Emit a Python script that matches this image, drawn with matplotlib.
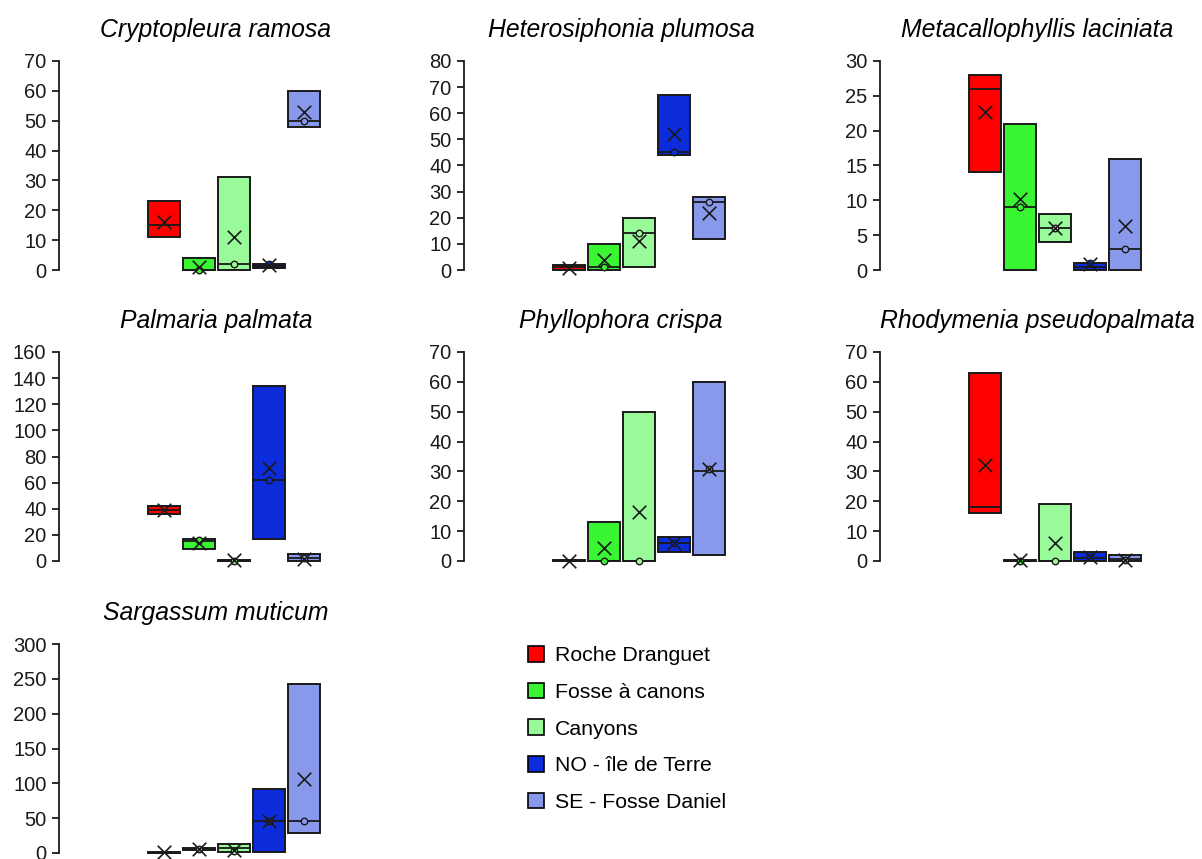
import matplotlib
matplotlib.use('Agg')
import matplotlib.pyplot as plt
from matplotlib.patches import Patch

plt.rcParams['font.family'] = ['Liberation Sans', 'DejaVu Sans']

sites = ['Roche Dranguet', 'Fosse à canons', 'Canyons', 'NO - île de Terre', 'SE - Fosse Daniel']
colors = ['#ff0000', '#3af532', '#99fa99', '#0c2bdb', '#8899ec']

species = ['Cryptopleura ramosa', 'Heterosiphonia plumosa', 'Metacallophyllis laciniata',
           'Palmaria palmata', 'Phyllophora crispa', 'Rhodymenia pseudopalmata',
           'Sargassum muticum']
ymax = [70, 80, 30, 160, 70, 70, 300]
ystep = [10, 10, 5, 20, 10, 10, 50]

# per species, one value per site
low = [[11, 0, 0, 0.8, 48],
       [0, 0, 1, 44, 12],
       [14, 0, 4, 0, 0],
       [36, 9, 0, 17, 0],
       [0, 0, 0, 3, 2],
       [16, 0, 0, 0, 0],
       [0, 4, 1, 1.4, 29]]
high = [[23, 4, 31, 2, 60],
        [2, 10, 20, 67, 28],
        [28, 21, 8, 1, 16],
        [42, 17, 0.5, 134, 5],
        [0.3, 13, 50, 8, 60],
        [63, 0.3, 19, 3, 2],
        [1, 7.6, 13, 92, 243]]
median = [[15, 0, 2, 1.5, 50],
          [1, 1, 14, 45, 26],
          [26, 9, 6, 0.5, 3],
          [39, 15, 0, 62, 2.3],
          [0, 0, 0, 6, 30],
          [18, 0, 0, 1.1, 0.8],
          [0, 5.7, 6.7, 46, 46]]
mean = [[16.2, 1.1, 10.9, 1.8, 53],
        [0.8, 3.8, 11.1, 52.2, 21.9],
        [22.7, 10.2, 6, 0.8, 6.3],
        [39.3, 13.8, 0.5, 71.2, 1.8],
        [0, 4.5, 16.5, 5.9, 30.9],
        [32.3, 0.2, 6.1, 1.3, 0.2],
        [1, 5.7, 4.8, 46, 106]]
point = [[None, 0, 2, 2, 50],
         [None, 1, 14, 45, 26],
         [None, 9, 6, 1, 3],
         [None, 16.3, 0, 62, 2.3],
         [None, 0, 0, 5.9, 30.7],
         [None, 0, 0, 1.3, 0.2],
         [None, 5.7, 2.4, 46, 46]]

W, H = 1202, 859
fig = plt.figure(figsize=(W / 100, H / 100), dpi=100)

col_x = [59, 464, 880]
row_top = [61, 352, 644]
ax_w, ax_h = 314, 209

for k, name in enumerate(species):
    r, c = divmod(k, 3)
    ax = fig.add_axes([col_x[c] / W, 1 - (row_top[r] + ax_h) / H, ax_w / W, ax_h / H])
    pos = range(1, 6)
    ax.bar(pos, [h - l for h, l in zip(high[k], low[k])], bottom=low[k], width=0.9,
           color=colors, edgecolor='#1a1a1a', linewidth=1.4, clip_on=False, zorder=2)
    ax.hlines(median[k], [p - 0.45 for p in pos], [p + 0.45 for p in pos],
              color='#1a1a1a', linewidth=1.3, zorder=3, clip_on=False)
    for i in range(5):
        if point[k][i] is not None:
            ax.scatter(i + 1, point[k][i], s=22, marker='o', facecolor=colors[i],
                       edgecolor='#1a1a1a', linewidth=1.0, zorder=4, clip_on=False)
    ax.scatter(pos, mean[k], s=95, marker='x', color='#1a1a1a', linewidth=1.2,
               zorder=5, clip_on=False)
    ax.set_xlim(-2.0, -2.0 + ax_w / 35)
    ax.set_ylim(0, ymax[k])
    ax.set_yticks(range(0, ymax[k] + 1, ystep[k]))
    ax.tick_params(axis='y', labelsize=14.5, length=5, width=1.3, pad=4, colors='#1a1a1a')
    ax.set_xticks([])
    for s in ['top', 'right', 'bottom']:
        ax.spines[s].set_visible(False)
    ax.spines['left'].set_linewidth(1.3)
    ax.spines['left'].set_color('#1a1a1a')
    ax.set_title(name, fontsize=17.8, style='italic', pad=17.5)

handles = [Patch(facecolor=col, edgecolor='black', linewidth=1.2) for col in colors]
fig.legend(handles, sites, loc='upper left', bbox_to_anchor=(509 / W, 1 - 627 / H),
           frameon=False, fontsize=15.3, handlelength=0.75, handleheight=0.75,
           handletextpad=0.5, labelspacing=0.82)

fig.savefig('out.png', dpi=100)
